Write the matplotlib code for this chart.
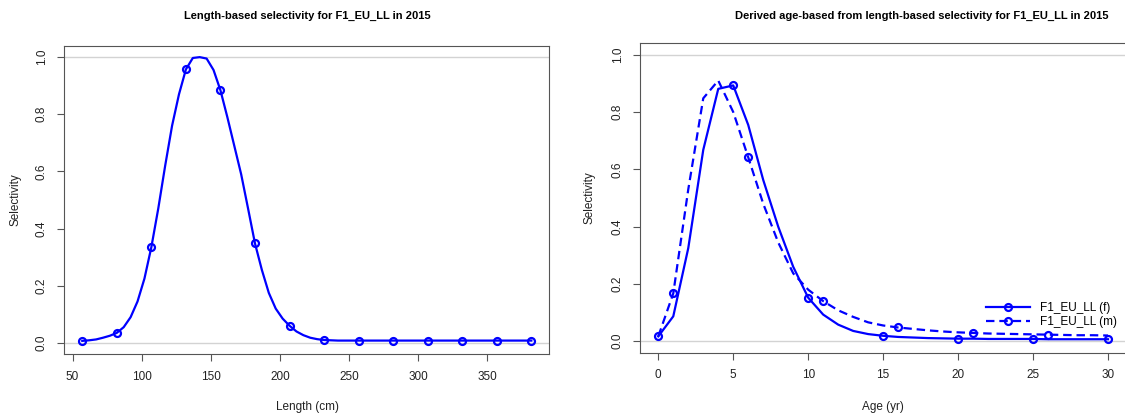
import numpy as np
import matplotlib
matplotlib.use("Agg")
import matplotlib.pyplot as plt
from matplotlib import font_manager

# length bins (cm) and selectivity
lengths = np.arange(57, 383, 5)
sel_len = [
    0.007, 0.009, 0.012, 0.018, 0.025,   # 57-77
    0.035, 0.055, 0.090, 0.145, 0.225,   # 82-102
    0.335, 0.470, 0.620, 0.760, 0.870,   # 107-127
    0.957, 0.997, 1.000, 0.995, 0.955,   # 132-152
    0.884, 0.790, 0.690, 0.590, 0.470,   # 157-177
    0.348, 0.255, 0.175, 0.120, 0.085,   # 182-202
    0.060, 0.040, 0.027, 0.018, 0.013,   # 207-227
    0.010, 0.009, 0.008, 0.008, 0.008,   # 232-252
    0.008, 0.008, 0.008, 0.008, 0.008,   # 257-277
    0.008, 0.008, 0.008, 0.008, 0.008,   # 282-302
    0.008, 0.008, 0.008, 0.008, 0.008,   # 307-327
    0.008, 0.008, 0.008, 0.008, 0.008,   # 332-352
    0.008, 0.008, 0.008, 0.008, 0.008,   # 357-377
    0.008,                               # 382
]

# ages (yr) and derived age-based selectivity, females and males
ages = np.arange(0, 31)
sel_f = [0.017, 0.087, 0.325, 0.668, 0.881, 0.893, 0.755, 0.563, 0.400, 0.260,
         0.152, 0.093, 0.058, 0.036, 0.025, 0.019, 0.015, 0.013, 0.011, 0.010,
         0.009, 0.009, 0.008, 0.008, 0.008, 0.008, 0.007, 0.007, 0.007, 0.007,
         0.007]
sel_m = [0.017, 0.167, 0.530, 0.848, 0.910, 0.800, 0.642, 0.480, 0.345, 0.237,
         0.180, 0.140, 0.108, 0.085, 0.066, 0.055, 0.048, 0.043, 0.038, 0.034,
         0.031, 0.029, 0.027, 0.026, 0.025, 0.024, 0.023, 0.022, 0.021, 0.021,
         0.020]

fleet = "F1_EU_LL"
year = 2015

# fonts
installed = {f.name for f in font_manager.fontManager.ttflist}
plt.rcParams['font.family'] = ['Liberation Sans', 'DejaVu Sans']
if 'Liberation Sans Narrow' in installed:
    title_font = dict(family='Liberation Sans Narrow', size=9.5)
else:
    title_font = dict(family='Liberation Sans', size=8)

blue = '#0000FF'
spine_col = '#555555'
fs = 8.5
W, H = 1125, 420

fig = plt.figure(figsize=(W / 100, H / 100), dpi=100)


def px_axes(x0, y0, x1, y1):
    return fig.add_axes([x0 / W, 1 - y1 / H, (x1 - x0) / W, (y1 - y0) / H])


def style(ax):
    for s in ax.spines.values():
        s.set_color(spine_col)
        s.set_linewidth(0.8)
    ax.tick_params(direction='out', length=5, width=0.8, color=spine_col,
                   labelsize=fs, pad=7, labelcolor='#222222')
    ax.set_yticks([0, 0.2, 0.4, 0.6, 0.8, 1.0])
    ax.set_yticklabels(['0.0', '0.2', '0.4', '0.6', '0.8', '1.0'],
                       rotation=90, va='center')
    ax.axhline(0, color='#d3d3d3', lw=1, zorder=0)
    ax.axhline(1, color='#d3d3d3', lw=1, zorder=0)
    ax.set_ylim(-0.04, 1.04)


# left panel: length-based
ax1 = px_axes(64.3, 45.7, 549.3, 354.3)
style(ax1)
ax1.plot(lengths, sel_len, color=blue, lw=1.6, marker='o', ms=5,
         mfc='none', mew=1.6, markevery=5)
ax1.set_xlim(44, 395)
ax1.set_xticks([50, 100, 150, 200, 250, 300, 350])

# right panel: age-based
ax2 = px_axes(640.3, 43.3, 1126, 352.7)
style(ax2)
ax2.plot(ages, sel_f, color=blue, lw=1.6, marker='o', ms=5,
         mfc='none', mew=1.6, markevery=5, label=f"{fleet} (f)")
ax2.plot(ages, sel_m, color=blue, lw=1.6, ls='--', dashes=(3.8, 2.2),
         marker='o', ms=5, mfc='none', mew=1.6,
         markevery=slice(1, None, 5), label=f"{fleet} (m)")
ax2.set_xlim(-1.2, 31.2)
ax2.set_xticks([0, 5, 10, 15, 20, 25, 30])
ax2.legend(loc='center left', bbox_to_anchor=(986 / W, 1 - 315 / H),
           bbox_transform=fig.transFigure, frameon=False, fontsize=fs,
           borderpad=0, borderaxespad=0, handlelength=3.7,
           handletextpad=0.9, labelspacing=0.15)

# titles and axis labels
fig.text(307 / W, 1 - 16 / H,
         f"Length-based selectivity for {fleet} in {year}",
         ha='center', va='center', weight='bold', **title_font)
fig.text(922 / W, 1 - 16 / H,
         f"Derived age-based from length-based selectivity for {fleet} in {year}",
         ha='center', va='center', weight='bold', **title_font)
fig.text(307 / W, 1 - 407 / H, "Length (cm)", ha='center', va='center',
         fontsize=fs, color='#222222')
fig.text(883 / W, 1 - 407 / H, "Age (yr)", ha='center', va='center',
         fontsize=fs, color='#222222')
fig.text(16 / W, 1 - 200 / H, "Selectivity", ha='center', va='center',
         rotation=90, fontsize=fs, color='#222222')
fig.text(590 / W, 1 - 198 / H, "Selectivity", ha='center', va='center',
         rotation=90, fontsize=fs, color='#222222')

fig.savefig('out.png', dpi=100)
